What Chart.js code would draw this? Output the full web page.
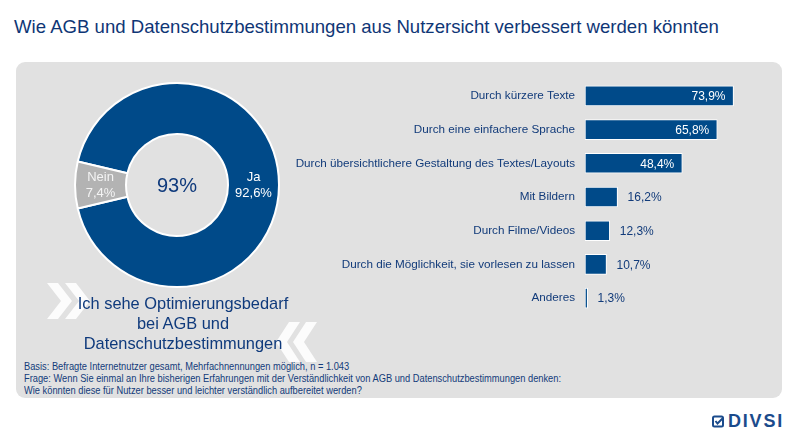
<!DOCTYPE html>
<html>
<head>
<meta charset="utf-8">
<script src="https://cdn.jsdelivr.net/npm/chart.js@4.4.0/dist/chart.umd.min.js"></script>
<style>
  html, body { margin: 0; padding: 0; background: #ffffff; }
  #root { position: relative; width: 800px; height: 440px; overflow: hidden; font-family: "Liberation Sans", Arial, sans-serif; color: #123b7a; }
  #title { position: absolute; left: 14px; top: 16px; font-size: 18.6px; white-space: nowrap; color: #0f3676; }
  #panel { position: absolute; left: 16px; top: 62px; width: 766px; height: 336px; background: #e1e1e1; border-radius: 9px; }
  #donut { position: absolute; left: 74px; top: 82px; width: 206px; height: 206px; }
  #bars { position: absolute; left: 280px; top: 79px; width: 506px; height: 236px; }
  #chev { position: absolute; left: 0; top: 0; }
  #caption { position: absolute; left: 58px; top: 293px; width: 250px; text-align: center; font-size: 16.4px; line-height: 20px; color: #0f3a7c; }
  #foot { position: absolute; left: 24px; top: 360px; font-size: 10.5px; line-height: 12px; color: #123b7a; white-space: nowrap; transform-origin: 0 0; transform: scaleX(0.885); }
  #logo { position: absolute; left: 712px; top: 411px; font-weight: bold; font-size: 18px; color: #1b4b8c; white-space: nowrap; letter-spacing: 1.8px; }
</style>
</head>
<body>
<div id="root">
  <div id="title">Wie AGB und Datenschutzbestimmungen aus Nutzersicht verbessert werden könnten</div>
  <div id="panel"></div>
  <svg id="chev" width="800" height="440">
    <g fill="#ffffff" fill-opacity="0.88">
      <polygon points="47,283 58,283 72,301 58,319 47,319 61,301"/>
      <polygon points="65,283 76,283 90,301 76,319 65,319 79,301"/>
      <polygon points="289,322 300,322 287,342 300,362 289,362 276,342"/>
      <polygon points="306,322 317,322 304,342 317,362 306,362 293,342"/>
    </g>
  </svg>
  <canvas id="donut" width="206" height="206"></canvas>
  <canvas id="bars" width="506" height="236"></canvas>
  <div id="caption">Ich sehe Optimierungsbedarf<br>bei AGB und<br>Datenschutzbestimmungen</div>
  <div id="foot">Basis: Befragte Internetnutzer gesamt, Mehrfachnennungen möglich, n = 1.043<br>Frage: Wenn Sie einmal an Ihre bisherigen Erfahrungen mit der Verständlichkeit von AGB und Datenschutzbestimmungen denken:<br>Wie könnten diese für Nutzer besser und leichter verständlich aufbereitet werden?</div>
  <div id="logo"><svg width="12" height="13" style="vertical-align:-1px;margin-right:4px" viewBox="0 0 12 13"><rect x="1" y="1.5" width="10" height="10" rx="1.5" fill="none" stroke="#1b4b8c" stroke-width="2"/><polyline points="3.5,6 5.5,8.5 11,3" fill="none" stroke="#1b4b8c" stroke-width="2"/></svg>DIVSI</div>
</div>
<script>
const donutLabels = ['Ja', 'Nein'];
const donutValues = [92.6, 7.4];
const donutCenter = '93%';

const barLabels = [
  'Durch kürzere Texte',
  'Durch eine einfachere Sprache',
  'Durch übersichtlichere Gestaltung des Textes/Layouts',
  'Mit Bildern',
  'Durch Filme/Videos',
  'Durch die Möglichkeit, sie vorlesen zu lassen',
  'Anderes'
];
const barValues = [73.9, 65.8, 48.4, 16.2, 12.3, 10.7, 1.3];

const BLUE = '#004a89';
const TEXT = '#123b7a';
const FONT = '"Liberation Sans", Arial, sans-serif';
const fmt = v => v.toFixed(1).replace('.', ',') + '%';

Chart.defaults.font.family = FONT;
Chart.defaults.animation = false;

const donutLabelPlugin = {
  id: 'donutLabels',
  afterDatasetsDraw(chart) {
    const ctx = chart.ctx;
    const meta = chart.getDatasetMeta(0);
    ctx.save();
    ctx.textAlign = 'center';
    ctx.textBaseline = 'middle';
    ctx.font = '13px ' + FONT;
    meta.data.forEach((arc, i) => {
      const p = arc.tooltipPosition();
      ctx.fillStyle = i === 0 ? '#ffffff' : '#f4f4f4';
      ctx.fillText(donutLabels[i], p.x, p.y - 8);
      ctx.fillText(fmt(donutValues[i]), p.x, p.y + 8);
    });
    const a = meta.data[0];
    ctx.fillStyle = '#0f3a7c';
    ctx.font = '20px ' + FONT;
    ctx.fillText(donutCenter, a.x, a.y + 1);
    ctx.restore();
  }
};

new Chart(document.getElementById('donut'), {
  type: 'doughnut',
  data: {
    labels: donutLabels,
    datasets: [{
      data: donutValues,
      backgroundColor: [BLUE, '#b3b3b3'],
      borderColor: '#ffffff',
      borderWidth: 2
    }]
  },
  options: {
    responsive: false,
    maintainAspectRatio: false,
    cutout: '50%',
    rotation: -76.7,
    layout: { padding: 0 },
    plugins: { legend: { display: false }, tooltip: { enabled: false } }
  },
  plugins: [donutLabelPlugin]
});

const barValuePlugin = {
  id: 'barValues',
  afterDatasetsDraw(chart) {
    const ctx = chart.ctx;
    const meta = chart.getDatasetMeta(0);
    ctx.save();
    ctx.font = '12px ' + FONT;
    ctx.textBaseline = 'middle';
    meta.data.forEach((bar, i) => {
      const v = barValues[i];
      if (v > 30) {
        ctx.textAlign = 'right';
        ctx.fillStyle = '#ffffff';
        ctx.fillText(fmt(v), bar.x - 8, bar.y + 1);
      } else {
        ctx.textAlign = 'left';
        ctx.fillStyle = TEXT;
        ctx.fillText(fmt(v), bar.x + 10, bar.y + 1);
      }
    });
    ctx.restore();
  }
};

new Chart(document.getElementById('bars'), {
  type: 'bar',
  data: {
    labels: barLabels,
    datasets: [{
      data: barValues,
      backgroundColor: BLUE,
      borderColor: '#ffffff',
      borderWidth: 1,
      borderSkipped: false,
      barThickness: 20
    }]
  },
  options: {
    responsive: false,
    maintainAspectRatio: false,
    indexAxis: 'y',
    layout: { padding: 0 },
    scales: {
      x: { display: false, min: 0, max: 100 },
      y: {
        grid: { display: false, drawTicks: false },
        border: { display: false },
        ticks: { color: TEXT, font: { size: 11.7 }, padding: 10 },
        afterFit(scale) {
          scale.width = 305;
          scale.paddingTop = 0;
          scale.paddingBottom = 0;
        }
      }
    },
    plugins: { legend: { display: false }, tooltip: { enabled: false } }
  },
  plugins: [barValuePlugin]
});
</script>
</body>
</html>
